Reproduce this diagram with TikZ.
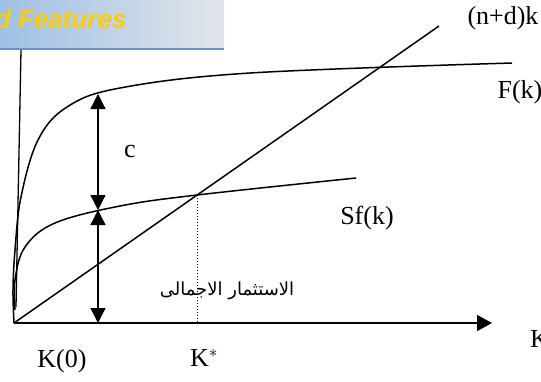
\documentclass[tikz,border=0pt]{standalone}
\usepackage{fontspec}
\setmainfont{Liberation Serif}
\newfontfamily\bannerfont{Liberation Sans}
\newfontfamily\arabicfont[Script=Arabic]{DejaVu Sans}
\TeXXeTstate=1
\usetikzlibrary{arrows.meta, positioning}
\definecolor{bannerleft}{RGB}{160,192,228}
\definecolor{bannerright}{RGB}{226,229,233}
\definecolor{bannerline}{RGB}{100,150,205}
\definecolor{bannergold}{RGB}{255,204,0}

\begin{document}
\begin{tikzpicture}[x=1pt, y=-1pt,
  curve/.style={line width=1.5pt},
  gap/.style={{Triangle[width=15pt,length=15pt]}-{Triangle[width=15pt,length=15pt]}, line width=1.3pt},
  lbl/.style={font=\fontsize{26}{28}\selectfont, inner sep=0pt}
]
\useasboundingbox (0,0) rectangle (541,381);

% banner
\shade[left color=bannerleft, right color=bannerright] (0,0) rectangle (224,48);
\fill[bannerline] (0,47.5) rectangle (224,50);
\node[anchor=base east, inner sep=0pt, text=bannergold, font=\bannerfont\bfseries\itshape\fontsize{26}{30}\selectfont] (title) at (127,28) {d Features};

% axes
\coordinate (origin) at (14,323);
\coordinate (ytop) at (21,50);
\coordinate (ybot) at (16,307);
\coordinate (xend) at (492,323);
\draw[line width=1.3pt, -{Triangle[width=16pt,length=15pt]}] (origin) -- (xend);
\draw[line width=1.3pt] (ytop) -- (ybot);

% curves
\draw[curve] (origin) -- (439,26) coordinate (ndtop);
\draw[curve] plot[smooth, tension=0.6] coordinates {(14,323) (13,290) (15,250) (21,197) (38,140) (67,107) (120,88) (250,73) (512,63)};
\draw[curve] plot[smooth, tension=0.6] coordinates {(15,310) (15,280) (25,247) (55,223) (120,206) (197,195) (356,178)};

% steady state
\coordinate (star) at (197,195);
\coordinate (kstar) at (197,323);
\draw[dotted, line width=1pt] (star) -- (kstar);

% consumption and saving
\coordinate (fk) at (98,94);
\coordinate (sfk) at (98,210);
\coordinate (base) at (98,323);
\draw[gap] (sfk) -- (fk);
\draw[gap] (base) -- (sfk);

% labels
\node[lbl] (c) at (130,151) {c};
\node[lbl] (sflabel) at (367,218) {Sf(k)};
\node[lbl] (flabel) at (520,92) {F(k)};
\node[lbl] (ndlabel) at (503,18) {(n+d)k};
\node[lbl] (k0) at (62,361) {K(0)};
\node[lbl] (kslabel) at (204,358) {K$^{*}$};
\node[lbl, anchor=base west] (kaxis) at (530,347) {K};
\node[inner sep=0pt, font=\arabicfont\fontsize{18}{20}\selectfont] (invest) at (227,291) {\beginR الاستثمار الاجمالى\endR};

\end{tikzpicture}
\end{document}
